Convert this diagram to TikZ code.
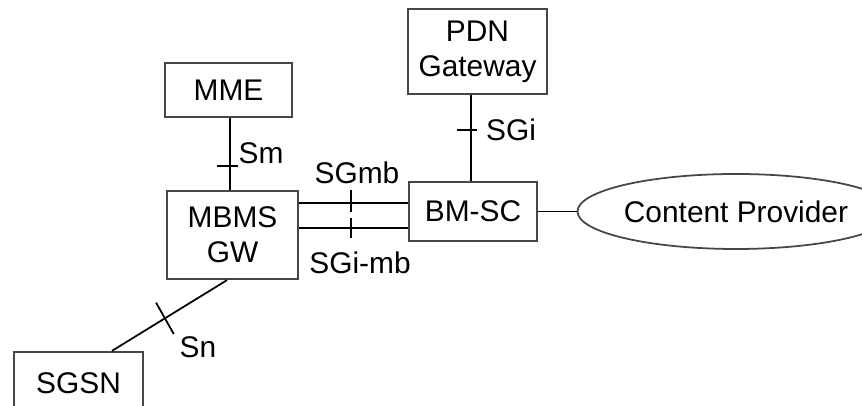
\documentclass[tikz,border=0pt]{standalone}
\usepackage{fontspec}
\setmainfont{Liberation Sans}
\usetikzlibrary{positioning,shapes.geometric,calc}
\definecolor{boxgray}{RGB}{70,70,70}

\tikzset{
  netbox/.style={draw=boxgray,line width=1.3pt,align=center,inner sep=0pt},
  iface/.style={line width=1pt},
  tick/.style={line width=1pt},
}

\begin{document}
\begin{tikzpicture}[font=\fontsize{17}{20}\selectfont]
    \useasboundingbox (0,0) rectangle (17.24,8.12);
    % network elements
    \node[netbox,minimum width=2.78cm,minimum height=1.70cm] (pdn) at (9.55,7.09) {PDN\\Gateway};
    \node[netbox,minimum width=2.56cm,minimum height=1.18cm] (bmsc) at (9.46,3.89) {BM-SC};
    \node[netbox,minimum width=2.54cm,minimum height=1.08cm] (mme) at (4.57,6.32) {MME};
    \node[netbox,minimum width=2.62cm,minimum height=1.76cm] (mbms) at (4.65,3.42) {MBMS\\GW};
    \node[netbox,minimum width=2.58cm,minimum height=1.24cm] (sgsn) at (1.57,0.46) {SGSN};
    \node[netbox,ellipse,line width=1pt,minimum width=5.5cm,minimum height=1.5cm] (cp) at (14.72,3.89) {Content Provider};
    % Sm
    \draw[iface] (4.60,0 |- mme.south) -- (4.60,0 |- mbms.north);
    \draw[tick] (4.34,4.80) -- (4.76,4.80);
    \node (sm) at (5.22,5.05) {Sm};
    % SGi
    \draw[iface] (9.42,0 |- bmsc.north) -- (9.42,0 |- pdn.south);
    \draw[tick] (9.14,5.52) -- (9.54,5.52);
    \node (sgi) at (10.22,5.52) {SGi};
    % SGmb / SGi-mb
    \draw[iface] (mbms.east |- 0,4.06) -- (bmsc.west |- 0,4.06);
    \draw[iface] (mbms.east |- 0,3.56) -- (bmsc.west |- 0,3.56);
    \draw[tick] (7.02,4.32) -- (7.02,3.88);
    \draw[tick] (7.02,3.76) -- (7.02,3.36);
    \node (sgmb) at (7.14,4.66) {SGmb};
    \node (sgimb) at (7.20,2.86) {SGi-mb};
    % BM-SC to content provider
    \draw[iface] (bmsc.east) -- (cp.west);
    % Sn
    \draw[iface] ([xshift=-0.11cm]mbms.south) -- ([xshift=0.67cm]sgsn.north)
        coordinate[pos=0.54] (snmid);
    \draw[tick] ($(snmid)!0.36cm!90:(mbms.south)$) -- ($(snmid)!0.36cm!-90:(mbms.south)$);
    \node (sn) at (3.96,1.18) {Sn};
\end{tikzpicture}
\end{document}
